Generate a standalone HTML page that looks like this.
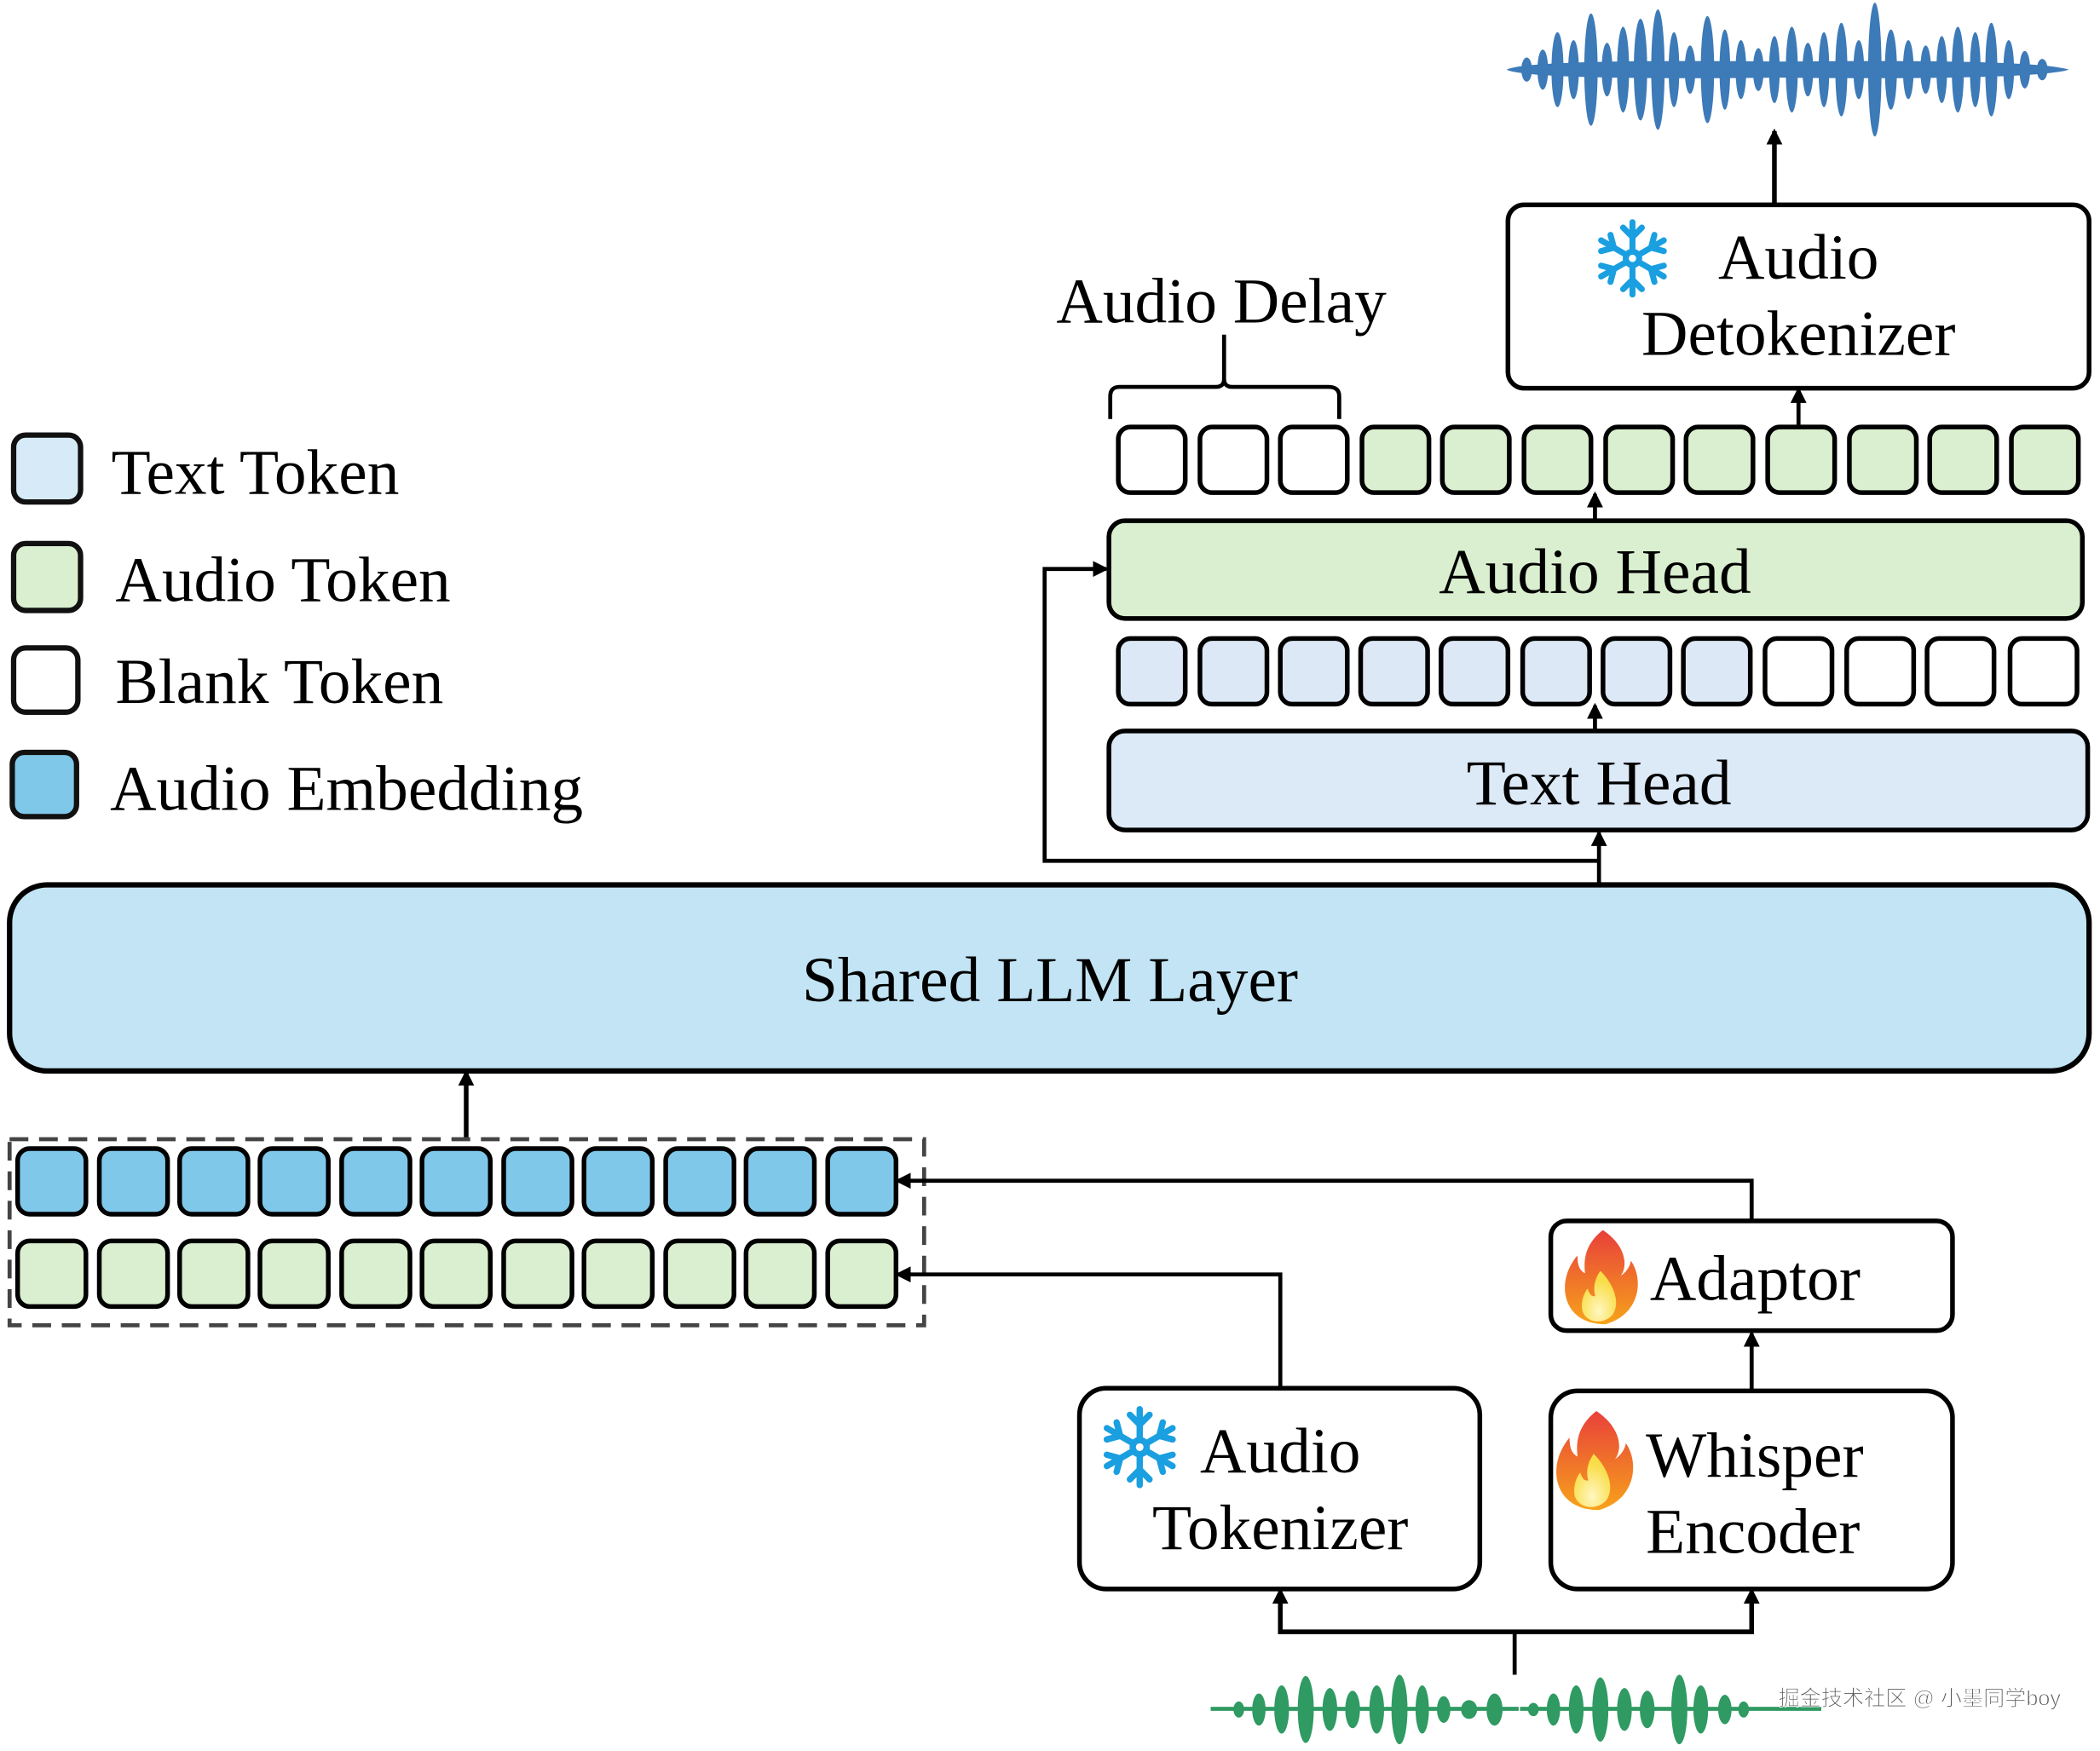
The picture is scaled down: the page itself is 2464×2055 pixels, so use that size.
<!DOCTYPE html>
<html><head><meta charset="utf-8"><style>
html,body{margin:0;padding:0;background:#fff;}
svg{display:block;}
text{font-family:"Liberation Serif",serif;fill:#000;}
</style></head><body>
<svg width="2464" height="2055" viewBox="0 0 1568 1308" xmlns="http://www.w3.org/2000/svg">
<defs>
<marker id="ah" markerWidth="12" markerHeight="12" refX="10" refY="6" orient="auto" markerUnits="userSpaceOnUse">
<path d="M0,0 L12,6 L0,12 Z" fill="#000"/></marker>
<g id="snow" stroke="#1a9fe0" stroke-width="4.5" stroke-linecap="round" fill="none">
<circle cx="0" cy="0" r="5"/>
<g id="arm"><line x1="0" y1="-5" x2="0" y2="-27"/><line x1="0" y1="-16" x2="-7" y2="-23"/><line x1="0" y1="-16" x2="7" y2="-23"/></g>
<use href="#arm" transform="rotate(60)"/><use href="#arm" transform="rotate(120)"/><use href="#arm" transform="rotate(180)"/><use href="#arm" transform="rotate(240)"/><use href="#arm" transform="rotate(300)"/>
</g>
<linearGradient id="fl" x1="0" y1="0" x2="0" y2="1"><stop offset="0" stop-color="#e8403a"/><stop offset="1" stop-color="#f7a21b"/></linearGradient>
<radialGradient id="fi" cx="0.5" cy="0.8" r="0.6"><stop offset="0" stop-color="#fff7c0"/><stop offset="1" stop-color="#f9de4a"/></radialGradient>
<g id="flame">
<path d="M2,-38 C20,-26 22,-10 16,-2 C22,-6 24,-12 24,-14 C34,0 32,28 4,36 C-24,36 -32,14 -26,-4 C-24,-10 -20,-16 -18,-18 C-18,-10 -16,-6 -12,-4 C-14,-20 -8,-30 2,-38 Z" fill="url(#fl)"/>
<path d="M0,-6 C10,4 16,18 10,28 C4,36 -10,36 -14,26 C-16,18 -12,10 -10,8 C-8,14 -6,14 -4,14 C-6,6 -4,0 0,-6 Z" fill="url(#fi)"/>
</g>
</defs>

<!-- Legend -->
<g stroke="#111" stroke-width="4">
<rect x="10" y="325" width="50" height="50" rx="9" fill="#d6ebf7"/>
<rect x="10" y="406" width="50" height="50" rx="9" fill="#d9efcf"/>
<rect x="10" y="484" width="48" height="48" rx="9" fill="#fff"/>
<rect x="9" y="562" width="48" height="48" rx="9" fill="#80c8ea"/>
</g>
<text x="83" y="369" font-size="48">Text Token</text>
<text x="86" y="449" font-size="48">Audio Token</text>
<text x="86" y="525" font-size="48">Blank Token</text>
<text x="82" y="605" font-size="48">Audio Embedding</text>

<!-- Blue waveform -->
<g fill="#3d7ab8">
<path d="M1125,52 Q1140,44 1330,46 Q1520,44 1545,52 Q1520,60 1330,58 Q1140,60 1125,52 Z"/>
<ellipse cx="1140" cy="52" rx="4" ry="9"/><ellipse cx="1152" cy="52" rx="4" ry="15"/><ellipse cx="1163" cy="52" rx="4.5" ry="28"/><ellipse cx="1175" cy="52" rx="4" ry="22"/><ellipse cx="1188" cy="52" rx="5" ry="42"/><ellipse cx="1200" cy="52" rx="4" ry="20"/><ellipse cx="1212" cy="52" rx="4.5" ry="32"/><ellipse cx="1225" cy="52" rx="5" ry="38"/><ellipse cx="1238" cy="52" rx="5" ry="45"/><ellipse cx="1250" cy="52" rx="4" ry="28"/><ellipse cx="1262" cy="52" rx="4" ry="18"/><ellipse cx="1275" cy="52" rx="5" ry="40"/><ellipse cx="1288" cy="52" rx="4" ry="30"/><ellipse cx="1300" cy="52" rx="4" ry="22"/><ellipse cx="1313" cy="52" rx="4" ry="16"/><ellipse cx="1325" cy="52" rx="4" ry="25"/><ellipse cx="1338" cy="52" rx="4.5" ry="32"/><ellipse cx="1350" cy="52" rx="4" ry="20"/><ellipse cx="1362" cy="52" rx="4" ry="28"/><ellipse cx="1375" cy="52" rx="4.5" ry="35"/><ellipse cx="1388" cy="52" rx="4" ry="22"/><ellipse cx="1400" cy="52" rx="5" ry="50"/><ellipse cx="1412" cy="52" rx="4.5" ry="30"/><ellipse cx="1425" cy="52" rx="4" ry="22"/><ellipse cx="1438" cy="52" rx="4" ry="18"/><ellipse cx="1450" cy="52" rx="4" ry="25"/><ellipse cx="1462" cy="52" rx="4.5" ry="32"/><ellipse cx="1475" cy="52" rx="4" ry="28"/><ellipse cx="1487" cy="52" rx="4.5" ry="35"/><ellipse cx="1500" cy="52" rx="4" ry="22"/><ellipse cx="1512" cy="52" rx="4" ry="14"/><ellipse cx="1525" cy="52" rx="4" ry="8"/>
</g>

<!-- Green waveform -->
<g fill="#2f9a62">
<rect x="904" y="1275" width="230" height="3"/><rect x="1135" y="1275" width="225" height="3"/>
<ellipse cx="925" cy="1277" rx="4" ry="6"/><ellipse cx="940" cy="1277" rx="5" ry="12"/><ellipse cx="957" cy="1277" rx="5.5" ry="18"/><ellipse cx="975" cy="1277" rx="6" ry="25"/><ellipse cx="993" cy="1277" rx="5.5" ry="16"/><ellipse cx="1010" cy="1277" rx="5.5" ry="14"/><ellipse cx="1028" cy="1277" rx="5.5" ry="18"/><ellipse cx="1045" cy="1277" rx="6" ry="26"/><ellipse cx="1062" cy="1277" rx="5" ry="18"/><ellipse cx="1078" cy="1277" rx="5" ry="10"/><ellipse cx="1097" cy="1277" rx="6" ry="7"/><ellipse cx="1116" cy="1277" rx="6" ry="12"/>
<ellipse cx="1145" cy="1277" rx="4" ry="5"/><ellipse cx="1160" cy="1277" rx="5" ry="12"/><ellipse cx="1177" cy="1277" rx="5.5" ry="18"/><ellipse cx="1195" cy="1277" rx="6" ry="24"/><ellipse cx="1213" cy="1277" rx="5.5" ry="16"/><ellipse cx="1230" cy="1277" rx="5.5" ry="14"/><ellipse cx="1254" cy="1277" rx="6" ry="26"/><ellipse cx="1270" cy="1277" rx="5.5" ry="18"/><ellipse cx="1288" cy="1277" rx="5" ry="11"/><ellipse cx="1302" cy="1277" rx="4" ry="6"/>
</g>
<text x="1328" y="1274" font-size="16" stroke="#fff" stroke-width="0.6" style="font-family:'Liberation Sans','Noto Sans CJK SC',sans-serif;fill:#555">掘金技术社区 @ 小墨同学boy</text>

<!-- Detokenizer -->
<rect x="1126" y="153" width="434" height="137" rx="12" fill="#fff" stroke="#000" stroke-width="3.5"/>
<use href="#snow" transform="translate(1219,193) scale(1)"/>
<text x="1343" y="208" font-size="48" text-anchor="middle">Audio</text>
<text x="1343" y="265" font-size="48" text-anchor="middle">Detokenizer</text>
<line x1="1325" y1="152" x2="1325" y2="98" stroke="#000" stroke-width="3.5" marker-end="url(#ah)"/>
<line x1="1343" y1="318" x2="1343" y2="291" stroke="#000" stroke-width="3" marker-end="url(#ah)"/>

<!-- Audio Delay -->
<text x="912" y="241" font-size="48" text-anchor="middle">Audio Delay</text>
<path d="M829,313 L829,296 Q829,289 836,289 L908,289 Q914,289 914,283 L914,250 M914,283 Q914,289 920,289 L992,289 Q1000,289 1000,296 L1000,313" fill="none" stroke="#000" stroke-width="3"/>

<!-- top token row -->
<g stroke="#000" stroke-width="3.5">
<rect x="835" y="319" width="50" height="49" rx="9" fill="#fff"/>
<rect x="896" y="319" width="50" height="49" rx="9" fill="#fff"/>
<rect x="956" y="319" width="50" height="49" rx="9" fill="#fff"/>
<rect x="1017" y="319" width="50" height="49" rx="9" fill="#d9efcf"/>
<rect x="1077" y="319" width="50" height="49" rx="9" fill="#d9efcf"/>
<rect x="1138" y="319" width="50" height="49" rx="9" fill="#d9efcf"/>
<rect x="1199" y="319" width="50" height="49" rx="9" fill="#d9efcf"/>
<rect x="1259" y="319" width="50" height="49" rx="9" fill="#d9efcf"/>
<rect x="1320" y="319" width="50" height="49" rx="9" fill="#d9efcf"/>
<rect x="1381" y="319" width="50" height="49" rx="9" fill="#d9efcf"/>
<rect x="1441" y="319" width="50" height="49" rx="9" fill="#d9efcf"/>
<rect x="1502" y="319" width="50" height="49" rx="9" fill="#d9efcf"/>
</g>

<!-- Audio Head -->
<rect x="828" y="389" width="727" height="73" rx="12" fill="#d9efcf" stroke="#000" stroke-width="3.5"/>
<text x="1191" y="443" font-size="48" text-anchor="middle">Audio Head</text>
<line x1="1191" y1="389" x2="1191" y2="369" stroke="#000" stroke-width="3" marker-end="url(#ah)"/>

<!-- text token row -->
<g stroke="#000" stroke-width="3.5">
<rect x="835" y="477" width="50" height="49" rx="9" fill="#dce8f5"/>
<rect x="896" y="477" width="50" height="49" rx="9" fill="#dce8f5"/>
<rect x="956" y="477" width="50" height="49" rx="9" fill="#dce8f5"/>
<rect x="1016" y="477" width="50" height="49" rx="9" fill="#dce8f5"/>
<rect x="1076" y="477" width="50" height="49" rx="9" fill="#dce8f5"/>
<rect x="1137" y="477" width="50" height="49" rx="9" fill="#dce8f5"/>
<rect x="1197" y="477" width="50" height="49" rx="9" fill="#dce8f5"/>
<rect x="1257" y="477" width="50" height="49" rx="9" fill="#dce8f5"/>
<rect x="1318" y="477" width="50" height="49" rx="9" fill="#fff"/>
<rect x="1379" y="477" width="50" height="49" rx="9" fill="#fff"/>
<rect x="1439" y="477" width="50" height="49" rx="9" fill="#fff"/>
<rect x="1501" y="477" width="50" height="49" rx="9" fill="#fff"/>
</g>

<!-- Text Head -->
<rect x="828" y="546" width="731" height="74" rx="12" fill="#dce9f6" stroke="#000" stroke-width="3.5"/>
<text x="1194" y="601" font-size="48" text-anchor="middle">Text Head</text>
<line x1="1191" y1="546" x2="1191" y2="527" stroke="#000" stroke-width="3" marker-end="url(#ah)"/>

<!-- LLM to heads -->
<line x1="1194" y1="661" x2="1194" y2="622" stroke="#000" stroke-width="3" marker-end="url(#ah)"/>
<polyline points="1194,643 780,643 780,425 826,425" fill="none" stroke="#000" stroke-width="3" marker-end="url(#ah)"/>

<!-- Shared LLM -->
<rect x="7" y="661" width="1553" height="139" rx="28" fill="#c2e4f4" stroke="#000" stroke-width="4"/>
<text x="784" y="748" font-size="48" text-anchor="middle">Shared LLM Layer</text>

<!-- input -->
<line x1="348" y1="850" x2="348" y2="801" stroke="#000" stroke-width="3.5" marker-end="url(#ah)"/>
<rect x="7" y="851" width="683" height="139" fill="none" stroke="#444" stroke-width="3" stroke-dasharray="14,8"/>
<g stroke="#000" stroke-width="3.5">
<rect x="13" y="858" width="51" height="49" rx="9" fill="#80c8ea"/>
<rect x="74" y="858" width="51" height="49" rx="9" fill="#80c8ea"/>
<rect x="134" y="858" width="51" height="49" rx="9" fill="#80c8ea"/>
<rect x="194" y="858" width="51" height="49" rx="9" fill="#80c8ea"/>
<rect x="255" y="858" width="51" height="49" rx="9" fill="#80c8ea"/>
<rect x="315" y="858" width="51" height="49" rx="9" fill="#80c8ea"/>
<rect x="376" y="858" width="51" height="49" rx="9" fill="#80c8ea"/>
<rect x="436" y="858" width="51" height="49" rx="9" fill="#80c8ea"/>
<rect x="497" y="858" width="51" height="49" rx="9" fill="#80c8ea"/>
<rect x="557" y="858" width="51" height="49" rx="9" fill="#80c8ea"/>
<rect x="618" y="858" width="51" height="49" rx="9" fill="#80c8ea"/>
<rect x="13" y="927" width="51" height="49" rx="9" fill="#d9efcf"/>
<rect x="74" y="927" width="51" height="49" rx="9" fill="#d9efcf"/>
<rect x="134" y="927" width="51" height="49" rx="9" fill="#d9efcf"/>
<rect x="194" y="927" width="51" height="49" rx="9" fill="#d9efcf"/>
<rect x="255" y="927" width="51" height="49" rx="9" fill="#d9efcf"/>
<rect x="315" y="927" width="51" height="49" rx="9" fill="#d9efcf"/>
<rect x="376" y="927" width="51" height="49" rx="9" fill="#d9efcf"/>
<rect x="436" y="927" width="51" height="49" rx="9" fill="#d9efcf"/>
<rect x="497" y="927" width="51" height="49" rx="9" fill="#d9efcf"/>
<rect x="557" y="927" width="51" height="49" rx="9" fill="#d9efcf"/>
<rect x="618" y="927" width="51" height="49" rx="9" fill="#d9efcf"/>
</g>
<polyline points="1308,911 1308,882 670,882" fill="none" stroke="#000" stroke-width="3" marker-end="url(#ah)"/>
<polyline points="956,1036 956,952 670,952" fill="none" stroke="#000" stroke-width="3" marker-end="url(#ah)"/>

<!-- Adaptor -->
<rect x="1158" y="912" width="300" height="82" rx="12" fill="#fff" stroke="#000" stroke-width="3.5"/>
<use href="#flame" transform="translate(1195,955) scale(0.95)"/>
<text x="1232" y="971" font-size="48">Adaptor</text>

<!-- Audio Tokenizer -->
<rect x="806" y="1037" width="299" height="150" rx="20" fill="#fff" stroke="#000" stroke-width="3.5"/>
<use href="#snow" transform="translate(851,1081) scale(1.05)"/>
<text x="956" y="1100" font-size="48" text-anchor="middle">Audio</text>
<text x="956" y="1157" font-size="48" text-anchor="middle">Tokenizer</text>

<!-- Whisper Encoder -->
<rect x="1158" y="1039" width="300" height="148" rx="20" fill="#fff" stroke="#000" stroke-width="3.5"/>
<use href="#flame" transform="translate(1190,1092) scale(1)"/>
<text x="1229" y="1103" font-size="48">Whisper</text>
<text x="1229" y="1160" font-size="48">Encoder</text>
<line x1="1308" y1="1039" x2="1308" y2="996" stroke="#000" stroke-width="3" marker-end="url(#ah)"/>

<!-- bottom -->
<line x1="1131" y1="1251" x2="1131" y2="1219" stroke="#000" stroke-width="3"/>
<polyline points="956,1192 956,1219 1308,1219 1308,1192" fill="none" stroke="#000" stroke-width="3.5"/>
<line x1="956" y1="1205" x2="956" y2="1188" stroke="#000" stroke-width="3" marker-end="url(#ah)"/>
<line x1="1308" y1="1205" x2="1308" y2="1188" stroke="#000" stroke-width="3" marker-end="url(#ah)"/>
</svg>
</body></html>
